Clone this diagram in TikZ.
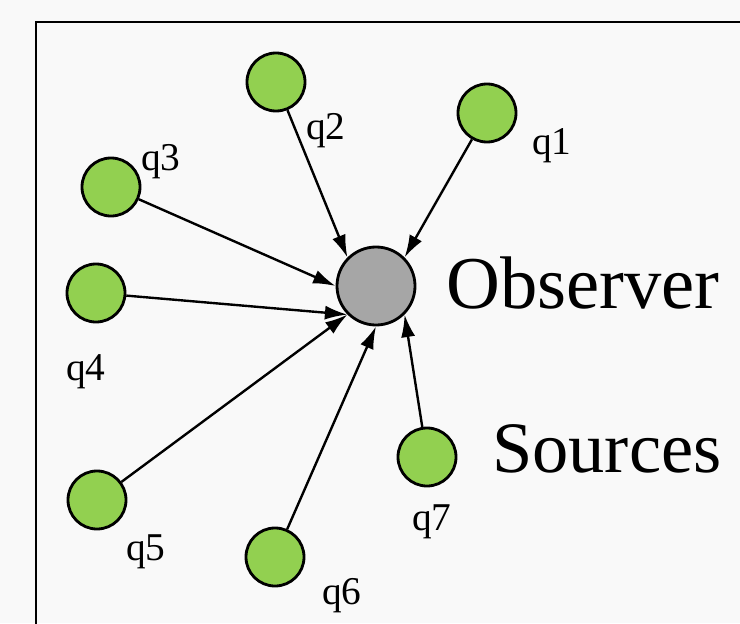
\documentclass[tikz,border=0pt]{standalone}
\usepackage{fontspec}
\setmainfont{Liberation Serif}
\usepackage{xcolor}
\usepackage{tikz}
\usetikzlibrary{arrows.meta,positioning}

\definecolor{srcgreen}{HTML}{92D050}
\definecolor{obsgray}{HTML}{A6A6A6}
\definecolor{paper}{HTML}{F9F9F9}

\tikzset{
  source/.style={circle, draw=black, line width=2pt, fill=srcgreen,
    minimum size=1.45cm, inner sep=0pt},
  observer/.style={circle, draw=black, line width=2pt, fill=obsgray,
    minimum size=1.95cm, inner sep=0pt},
  qlabel/.style={anchor=base west, inner sep=0pt, font=\fontsize{28}{30}\selectfont},
  biglabel/.style={anchor=base west, inner sep=0pt, font=\fontsize{53}{56}\selectfont},
  flow/.style={line width=1.7pt, -{Latex[length=16pt,width=10pt]}},
}

\begin{document}
\begin{tikzpicture}[x=0.025cm, y=-0.025cm]

  \useasboundingbox[fill=paper] (0,0) rectangle (740,623);
  \begin{scope}
    \clip (0,0) rectangle (740,623);
    \draw[line width=1.9pt] (36,22) rectangle (800,700);
  \end{scope}

  \node[observer] (obs) at (376,286) {};

  \node[source] (q1) at (487,113) {};
  \node[source] (q2) at (276,82)  {};
  \node[source] (q3) at (111,187) {};
  \node[source] (q4) at (96,293)  {};
  \node[source] (q5) at (97,500)  {};
  \node[source] (q6) at (275,557) {};
  \node[source] (q7) at (427,457) {};

  \node[qlabel] (l1) at (532,154) {q1};
  \node[qlabel] (l2) at (306,139) {q2};
  \node[qlabel] (l3) at (141,170) {q3};
  \node[qlabel] (l4) at (66,380)  {q4};
  \node[qlabel] (l5) at (126,560) {q5};
  \node[qlabel] (l6) at (322,604) {q6};
  \node[qlabel] (l7) at (412,530) {q7};

  \node[biglabel] (obstext) at (446,308) {Observer};
  \node[biglabel, font=\fontsize{51.5}{56}\selectfont] (srctext) at (492,472) {Sources};

  % each source ends on a fixed point of the observer
  \foreach \s/\a in {q1/45,q2/135,q3/180,q4/225,q5/225,q6/270,q7/315}
    \draw[flow] (\s) -- (obs.\a);

\end{tikzpicture}
\end{document}
